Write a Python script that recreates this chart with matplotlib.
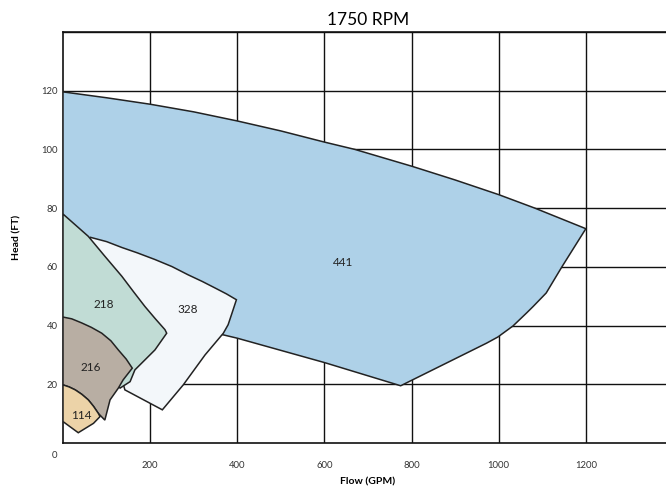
import matplotlib
matplotlib.use("Agg")
import matplotlib.pyplot as plt

plt.rcParams['font.family'] = ['Lato', 'DejaVu Sans']

# Operating regions (outline points: flow GPM, head FT)
r441_x = [0, 100, 200, 300, 400, 500, 600, 670, 800, 900, 1000, 1083, 1200, 1145, 1109, 1079, 1064, 1033, 998, 972, 775, 600, 400, 366, 150, 0]
r441_y = [119.6, 117.6, 115.4, 112.8, 109.7, 106.3, 102.5, 100, 94.3, 89.6, 84.6, 80, 73, 60, 51.1, 46.5, 44.3, 39.9, 36.1, 34.0, 19.5, 27.4, 35.7, 36.9, 45, 55]

r328_x = [62, 100, 135, 170, 211, 250, 287, 320, 349, 375, 398, 388, 379, 368, 326, 276, 228, 142, 120]
r328_y = [70.1, 68.6, 66.6, 64.8, 62.5, 60.1, 57.3, 55.0, 52.8, 50.8, 48.8, 44.3, 40.3, 37.4, 30, 19.8, 11.3, 18.1, 30]

r218_x = [0, 58, 95, 135, 162, 188, 212, 234, 238, 211, 188, 165, 154, 131, 100, 0]
r218_y = [78, 70.4, 63.8, 56.8, 51.5, 46.5, 42.3, 38.6, 37.4, 31.7, 28.3, 24.9, 20.9, 18.7, 25, 30]

r216_x = [0, 20, 43, 65, 89, 110, 127, 145, 159, 138, 127, 108, 96, 81, 70, 58, 43, 28, 14, 0]
r216_y = [42.9, 42.3, 40.9, 39.4, 37.4, 34.8, 31.7, 28.6, 25.5, 21.5, 18.7, 14.7, 7.8, 10.1, 12.5, 14.7, 16.6, 18.1, 19.1, 19.8]

r114_x = [0, 14, 28, 43, 58, 70, 81, 85, 70, 35, 0]
r114_y = [19.8, 19.1, 18.1, 16.6, 14.7, 12.5, 10.1, 9.0, 6.7, 3.5, 7.3]

labels = ['441', '328', '218', '216', '114']
label_x = [644, 287, 93, 63, 41]
label_y = [61.4, 45.4, 47.3, 25.8, 9.3]

x_ticks = [200, 400, 600, 800, 1000, 1200]
y_ticks = [20, 40, 60, 80, 100, 120]

regions = [
    (r441_x, r441_y, '#aed1e8'),
    (r328_x, r328_y, '#f3f7fa'),
    (r218_x, r218_y, '#c1dcd5'),
    (r216_x, r216_y, '#b8aea3'),
    (r114_x, r114_y, '#ecd3a8'),
]

fig = plt.figure(figsize=(6.66, 4.88), dpi=100)
ax = fig.add_axes([63 / 666, 45 / 488, 610 / 666, 411 / 488])

for xs, ys, col in regions:
    ax.fill(xs, ys, facecolor=col, edgecolor='#222222', linewidth=1.1, zorder=3)

for lab, lx, ly in zip(labels, label_x, label_y):
    ax.text(lx, ly, lab, fontsize=8.5, ha='center', va='center', color='#222222', zorder=5)

ax.set_xlim(0, 1400)
ax.set_ylim(0, 140)
ax.set_xticks(x_ticks + [1400])
ax.set_yticks(y_ticks + [140])
ax.set_xticklabels([str(v) for v in x_ticks] + [''])
ax.set_yticklabels([str(v) for v in y_ticks] + [''])
ax.grid(True, color='#111111', linewidth=1.0, zorder=1)
ax.set_axisbelow(True)
ax.tick_params(length=0, labelsize=6.8, colors='#333333')
ax.tick_params(axis='x', pad=13)
ax.tick_params(axis='y', pad=4)
for s in ax.spines.values():
    s.set_color('#111111')
    s.set_linewidth(1.2)

ax.text(-0.01, -0.03, '0', transform=ax.transAxes, fontsize=6.8, color='#333333', ha='right', va='center')

ax.set_title('1750 RPM', fontsize=12.5, pad=5)
ax.set_xlabel('Flow (GPM)', fontsize=7.5, fontweight='bold', labelpad=5.5)
ax.set_ylabel('Head (FT)', fontsize=7.5, fontweight='bold', labelpad=14)

plt.savefig('out.png', dpi=100)
